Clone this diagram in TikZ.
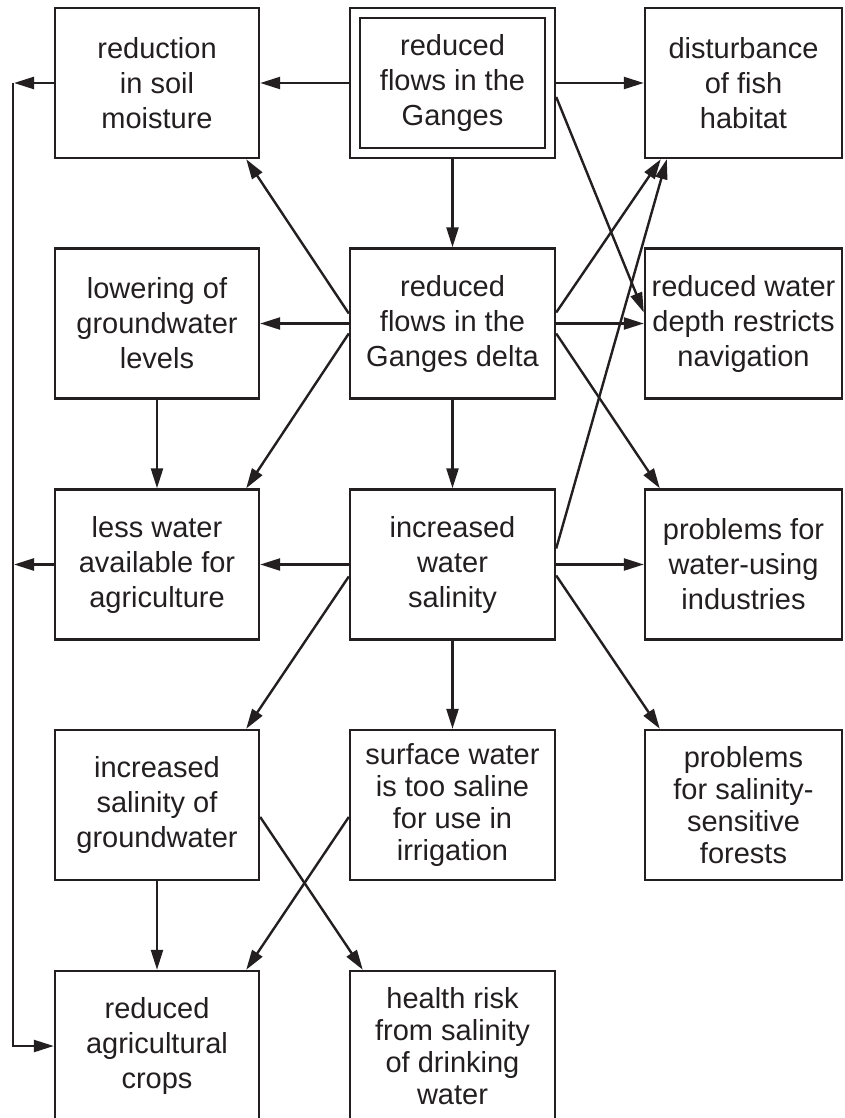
\documentclass[tikz,border=0pt]{standalone}
\usepackage{fontspec}
\setmainfont{Liberation Sans}
\usetikzlibrary{arrows.meta}
\definecolor{ink}{HTML}{231F20}
\begin{document}
\begin{tikzpicture}[x=1pt,y=-1pt,
  box/.style={draw=ink, line width=2.4pt, text=ink, minimum width=204pt, minimum height=150pt, inner sep=0pt, align=center, font=\fontsize{29}{35}\selectfont},
  mid/.style={minimum width=205pt},
  narrow/.style={minimum width=197pt},
  four/.style={font=\fontsize{29}{32}\selectfont},
  conn/.style={draw=ink, line width=2.4pt, -{Triangle[length=20pt,width=12pt]}},
  plain/.style={draw=ink, line width=2.4pt},
]
\useasboundingbox (0,0) rectangle (844,1118);
\clip (0,0) rectangle (844,1118);
\fill[white] (0,0) rectangle (844,1118);

\node[box] (A) at (157,83) {reduction\\in soil\\moisture};
\node[box,mid] (G) at (452.5,83) {reduced\\flows in the\\Ganges};
\node[box,narrow] (F) at (743.5,83) {disturbance\\of fish\\habitat};
\node[box] (L) at (157,323.5) {lowering of\\groundwater\\levels};
\node[box,mid] (D) at (452.5,323.5) {reduced\\flows in the\\Ganges delta};
\node[box,narrow] (N) at (743.5,323.5) {reduced water\\depth restricts\\navigation};
\node[box] (W) at (157,564.5) {less water\\available for\\agriculture};
\node[box,mid] (S) at (452.5,564.5) {increased\\water\\salinity};
\node[box,narrow] (I) at (743.5,564.5) {problems for\\water-using\\industries};
\node[box] (GW) at (157,805) {increased\\salinity of\\groundwater};
\node[box,mid,four] (SW) at (452.5,805) {surface water\\is too saline\\for use in\\irrigation};
\node[box,narrow,four] (Fo) at (743.5,805) {problems\\for salinity-\\sensitive\\forests};
\node[box] (C) at (157,1046) {reduced\\agricultural\\crops};
\node[box,mid,four] (H) at (452.5,1046) {health risk\\from salinity\\of drinking\\water};

\draw[plain] ([shift={(11,11)}]G.north west) rectangle ([shift={(-11,-11)}]G.south east);

\coordinate (LA) at (13,83);
\coordinate (LW) at (13,564.5);
\coordinate (LC) at (13,1046);

% from Ganges
\draw[conn] (G.west) -- (A.east);
\draw[conn] (G.east) -- (F.west);
\draw[conn] (G.south) -- (D.north);
\draw[conn] ([yshift=-14pt]G.east) -- ([yshift=11pt]N.west);

% from delta
\draw[conn] ([yshift=10pt]D.west) -- ([xshift=-14pt]A.south east);
\draw[conn] (D.west) -- (L.east);
\draw[conn] ([yshift=-10pt]D.west) -- ([xshift=-14pt]W.north east);
\draw[conn] (D.south) -- (S.north);
\draw[conn] ([yshift=11pt]D.east) -- ([xshift=17pt]F.south west);
\draw[conn] (D.east) -- (N.west);
\draw[conn] ([yshift=-10pt]D.east) -- ([xshift=16pt]I.north west);

% lowering
\draw[conn] (L.south) -- (W.north);

% from salinity
\draw[conn] (S.west) -- (W.east);
\draw[conn] ([yshift=16pt]S.east) -- ([xshift=23pt]F.south west);
\draw[conn] (S.east) -- (I.west);
\draw[conn] ([yshift=-11pt]S.east) -- ([xshift=16pt]Fo.north west);
\draw[conn] (S.south) -- (SW.north);
\draw[conn] ([yshift=-12pt]S.west) -- ([xshift=-14pt]GW.north east);

% groundwater / surface water
\draw[conn] (GW.south) -- (C.north);
\draw[conn] ([yshift=-12pt]GW.east) -- ([xshift=14pt]H.north west);
\draw[conn] ([yshift=-12pt]SW.west) -- ([xshift=-14pt]C.north east);

% left feedback line
\draw[conn] (A.west) -- ([xshift=1pt]LA);
\draw[conn] (W.west) -- ([xshift=1pt]LW);
\draw[conn] (LA) -- (LC) -- (C.west);
\end{tikzpicture}
\end{document}
